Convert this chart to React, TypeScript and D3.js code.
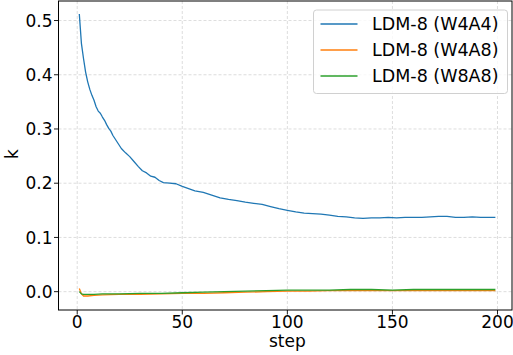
import { useRef, useEffect } from 'react'
import * as d3 from 'd3'

// (step, k) points
const w4a4Steps = [1, 2, 3, 4, 5, 6, 7, 8, 9, 10, 11, 12, 13, 14, 15, 16, 17, 19, 21, 23, 25, 27, 29, 31, 33, 35, 37, 39, 41, 44, 47, 50, 53, 56, 60, 64, 68, 72, 76, 80, 84, 88, 92, 96, 100, 104, 108, 112, 116, 120, 124, 128, 132, 136, 140, 144, 148, 152, 156, 160, 164, 168, 172, 176, 180, 184, 188, 192, 196, 199]
const w4a4Values = [0.512, 0.458, 0.43, 0.405, 0.387, 0.373, 0.362, 0.353, 0.341, 0.333, 0.329, 0.322, 0.316, 0.308, 0.301, 0.296, 0.288, 0.276, 0.264, 0.256, 0.249, 0.24, 0.231, 0.223, 0.219, 0.213, 0.211, 0.205, 0.201, 0.2, 0.199, 0.194, 0.19, 0.186, 0.183, 0.178, 0.173, 0.17, 0.168, 0.165, 0.163, 0.161, 0.157, 0.153, 0.15, 0.147, 0.145, 0.144, 0.143, 0.141, 0.139, 0.138, 0.136, 0.135, 0.136, 0.136, 0.137, 0.136, 0.137, 0.137, 0.137, 0.138, 0.139, 0.139, 0.137, 0.137, 0.138, 0.137, 0.137, 0.137]

const smallSteps = [1, 2, 3, 5, 8, 12, 20, 30, 40, 50, 60, 70, 80, 90, 100, 110, 120, 130, 140, 150, 160, 170, 180, 190, 199]
const w4a8Values = [0.006, -0.004, -0.008, -0.008, -0.007, -0.006, -0.005, -0.005, -0.004, -0.003, -0.003, -0.002, -0.001, 0.0, 0.001, 0.001, 0.002, 0.002, 0.002, 0.002, 0.002, 0.002, 0.002, 0.002, 0.002]
const w8a8Values = [0.0, -0.004, -0.005, -0.005, -0.005, -0.004, -0.004, -0.003, -0.003, -0.002, -0.001, 0.0, 0.001, 0.002, 0.003, 0.003, 0.003, 0.004, 0.004, 0.003, 0.004, 0.004, 0.004, 0.004, 0.004]

const seriesNames = ['LDM-8 (W4A4)', 'LDM-8 (W4A8)', 'LDM-8 (W8A8)']
const seriesColors = ['#1f77b4', '#ff7f0e', '#2ca02c']
const xTicks = [0, 50, 100, 150, 200]
const yTicks = [0.0, 0.1, 0.2, 0.3, 0.4, 0.5]

type Pt = [number, number]

export default function App() {
  const svgRef = useRef<SVGSVGElement>(null)

  useEffect(() => {
    if (!svgRef.current) return
    const svg = d3.select(svgRef.current)
    svg.selectAll('*').remove()

    const width = 513
    const height = 355
    const left = 58.5, right = 512, top = 1, bottom = 310
    const font = 'DejaVu Sans, sans-serif'

    const x = d3.scaleLinear().domain([-8.9, 206.9]).range([left, right])
    const y = d3.scaleLinear().domain([-0.0338, 0.536]).range([bottom, top])

    svg.attr('width', width).attr('height', height)

    // grid
    svg.append('g').selectAll('line').data(xTicks.filter(t => x(t) < right)).join('line')
      .attr('x1', d => x(d)).attr('x2', d => x(d))
      .attr('y1', top).attr('y2', bottom)
      .attr('stroke', '#d4d4d4').attr('stroke-width', 0.8).attr('stroke-dasharray', '3,2')
    svg.append('g').selectAll('line').data(yTicks).join('line')
      .attr('x1', left).attr('x2', right)
      .attr('y1', d => y(d)).attr('y2', d => y(d))
      .attr('stroke', '#d4d4d4').attr('stroke-width', 0.8).attr('stroke-dasharray', '3,2')

    const data: Pt[][] = [
      w4a4Steps.map((s, i) => [s, w4a4Values[i]] as Pt),
      smallSteps.map((s, i) => [s, w4a8Values[i]] as Pt),
      smallSteps.map((s, i) => [s, w8a8Values[i]] as Pt),
    ]

    const line = d3.line<Pt>().x(d => x(d[0])).y(d => y(d[1]))
    data.forEach((pts, i) => {
      svg.append('path')
        .datum(pts)
        .attr('fill', 'none')
        .attr('stroke', seriesColors[i])
        .attr('stroke-width', 1.3)
        .attr('stroke-linejoin', 'round')
        .attr('d', line)
    })

    // frame
    svg.append('rect')
      .attr('x', left).attr('y', top)
      .attr('width', right - left).attr('height', bottom - top)
      .attr('fill', 'none').attr('stroke', '#000').attr('stroke-width', 1)

    // x ticks
    const xt = svg.append('g')
    xTicks.forEach(t => {
      xt.append('line').attr('x1', x(t)).attr('x2', x(t)).attr('y1', bottom).attr('y2', bottom + 4.5)
        .attr('stroke', '#000').attr('stroke-width', 0.9)
      xt.append('text').attr('x', x(t)).attr('y', bottom + 17.5)
        .attr('text-anchor', 'middle').attr('font-family', font).attr('font-size', 17)
        .text(String(t))
    })
    svg.append('text').attr('x', (x(0) + x(200)) / 2).attr('y', 347)
      .attr('text-anchor', 'middle').attr('font-family', font).attr('font-size', 17)
      .text('step')

    // y ticks
    const yt = svg.append('g')
    yTicks.forEach(t => {
      yt.append('line').attr('x1', left - 4.5).attr('x2', left).attr('y1', y(t)).attr('y2', y(t))
        .attr('stroke', '#000').attr('stroke-width', 0.9)
      yt.append('text').attr('x', left - 6).attr('y', y(t)).attr('dy', '0.36em')
        .attr('text-anchor', 'end').attr('font-family', font).attr('font-size', 17)
        .text(t.toFixed(1))
    })
    svg.append('text')
      .attr('transform', `translate(18,154) rotate(-90)`)
      .attr('text-anchor', 'middle').attr('font-family', font).attr('font-size', 17)
      .text('k')

    // legend
    const lg = svg.append('g')
    lg.append('rect').attr('x', 313.5).attr('y', 10).attr('width', 194).attr('height', 83.5)
      .attr('rx', 3).attr('fill', 'rgba(255,255,255,0.8)').attr('stroke', '#d0d0d0').attr('stroke-width', 1)
    seriesNames.forEach((name, i) => {
      const cy = 24 + i * 26
      lg.append('line').attr('x1', 320.5).attr('x2', 357.5).attr('y1', cy).attr('y2', cy)
        .attr('stroke', seriesColors[i]).attr('stroke-width', 1.3)
      lg.append('text').attr('x', 372).attr('y', cy).attr('dy', '0.36em')
        .attr('font-family', font).attr('font-size', 17.5)
        .text(name)
    })
  }, [])

  return (
    <svg ref={svgRef} style={{ position: 'absolute', left: 0, top: 0, background: '#fff' }} />
  )
}
